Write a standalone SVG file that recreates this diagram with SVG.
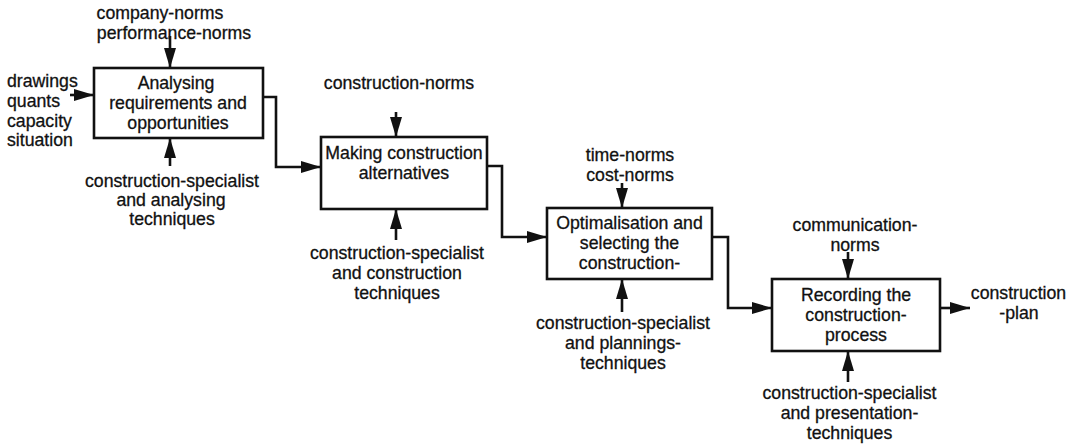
<svg xmlns="http://www.w3.org/2000/svg" width="1081" height="446" viewBox="0 0 1081 446">
  <style>
    text { font-family: "Liberation Sans", Arial, Helvetica, sans-serif; font-size: 17.7px; fill: #111; stroke: #111; stroke-width: 0.3px; }
    .c { text-anchor: middle; }
    .box { fill: #fff; stroke: #111; stroke-width: 2.6; }
    .wire { fill: none; stroke: #111; stroke-width: 2.6; marker-end: url(#head); }
  </style>
  <defs>
    <marker id="head" viewBox="0 0 20 12" refX="20" refY="6" markerWidth="20" markerHeight="12" markerUnits="userSpaceOnUse" orient="auto">
      <path d="M0,0 L20,6 L0,12 z" fill="#111"/>
    </marker>
  </defs>

  <rect width="1081" height="446" fill="#fff"/>

  <!-- connectors: flow between steps, inputs, controls and mechanisms -->
  <g id="connectors">
    <path class="wire" d="M70,95 H94"/>
    <path class="wire" d="M263,97 H276 V167 H321"/>
    <path class="wire" d="M487,166 H502 V237 H547"/>
    <path class="wire" d="M712,237 H728 V308 H772"/>
    <path class="wire" d="M940,308 H970"/>
    <!-- controls (from above) -->
    <path class="wire" d="M170,36 V68"/>
    <path class="wire" d="M396,112 V137"/>
    <path class="wire" d="M622,183 V208"/>
    <path class="wire" d="M848,252 V279"/>
    <!-- mechanisms (from below) -->
    <path class="wire" d="M170,166 V138"/>
    <path class="wire" d="M396,240 V209"/>
    <path class="wire" d="M622,312 V279"/>
    <path class="wire" d="M848,382 V351"/>
  </g>

  <!-- step 1 -->
  <g id="analysing">
    <rect class="box" x="94" y="68" width="169" height="70"/>
    <text class="c" x="176" y="89">Analysing</text>
    <text class="c" x="178" y="109">requirements and</text>
    <text class="c" x="178" y="129">opportunities</text>
  </g>
  <g id="analysing-inputs">
    <text x="7" y="87">drawings</text>
    <text x="7" y="107">quants</text>
    <text x="7" y="127">capacity</text>
    <text x="7" y="146">situation</text>
  </g>
  <g id="analysing-controls">
    <text class="c" x="160" y="19">company-norms</text>
    <text class="c" x="174" y="38.5">performance-norms</text>
  </g>
  <g id="analysing-mechanisms">
    <text class="c" x="172" y="187">construction-specialist</text>
    <text class="c" x="171" y="206">and analysing</text>
    <text class="c" x="172" y="225">techniques</text>
  </g>

  <!-- step 2 -->
  <g id="alternatives">
    <rect class="box" x="321" y="137" width="166" height="72"/>
    <text class="c" x="404" y="159">Making construction</text>
    <text class="c" x="404" y="179">alternatives</text>
  </g>
  <g id="alternatives-controls">
    <text class="c" x="399" y="89">construction-norms</text>
  </g>
  <g id="alternatives-mechanisms">
    <text class="c" x="397" y="259">construction-specialist</text>
    <text class="c" x="397" y="279">and construction</text>
    <text class="c" x="397" y="299">techniques</text>
  </g>

  <!-- step 3 -->
  <g id="optimalisation">
    <rect class="box" x="547" y="208" width="165" height="71"/>
    <text class="c" x="629.5" y="229">Optimalisation and</text>
    <text class="c" x="629.5" y="249">selecting the</text>
    <text class="c" x="629.5" y="269">construction-</text>
  </g>
  <g id="optimalisation-controls">
    <text class="c" x="630" y="161">time-norms</text>
    <text class="c" x="630" y="181">cost-norms</text>
  </g>
  <g id="optimalisation-mechanisms">
    <text class="c" x="623" y="329">construction-specialist</text>
    <text class="c" x="623" y="349">and plannings-</text>
    <text class="c" x="623" y="369">techniques</text>
  </g>

  <!-- step 4 -->
  <g id="recording">
    <rect class="box" x="772" y="279" width="168" height="72"/>
    <text class="c" x="856" y="301">Recording the</text>
    <text class="c" x="856" y="321">construction-</text>
    <text class="c" x="856" y="341">process</text>
  </g>
  <g id="recording-controls">
    <text class="c" x="855" y="231">communication-</text>
    <text class="c" x="855" y="251">norms</text>
  </g>
  <g id="recording-mechanisms">
    <text class="c" x="849.5" y="399">construction-specialist</text>
    <text class="c" x="849.5" y="419">and presentation-</text>
    <text class="c" x="849.5" y="439">techniques</text>
  </g>
  <g id="output">
    <text class="c" x="1018.5" y="299">construction</text>
    <text class="c" x="1019" y="319">-plan</text>
  </g>
</svg>
